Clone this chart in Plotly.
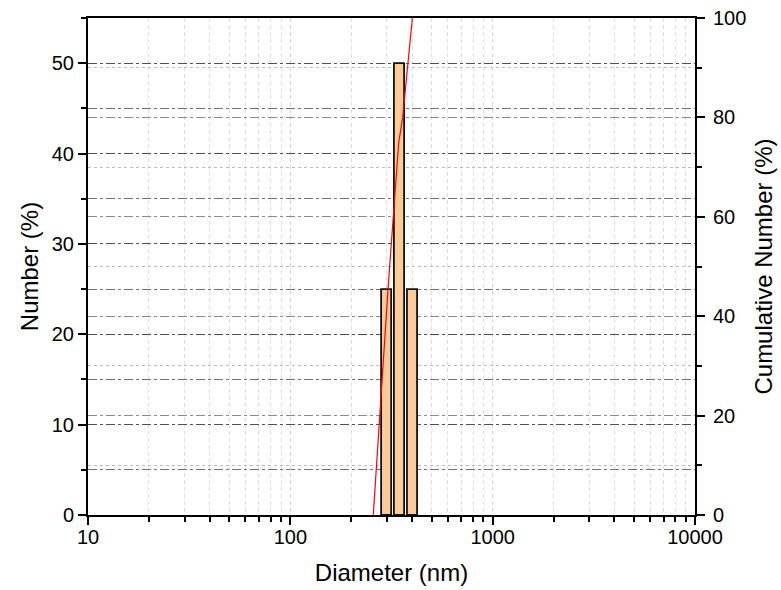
import plotly.graph_objects as go

# Histogram bars (diameter edges in nm, number %)
bar_left = [281, 325, 377]
bar_right = [315, 365, 423]
number_pct = [25, 50, 25]

# Cumulative number curve (diameter nm, cumulative %)
cum_diam = [257, 304, 343, 359, 401]
cum_pct = [0, 45.5, 74.8, 80, 100]

x_major = [10, 100, 1000, 10000]
x_labels = ["10", "100", "1000", "10000"]
x_minor = [m * d for d in (10, 100, 1000) for m in range(2, 10)]

FONT = "Liberation Sans, Arial, sans-serif"

fig = go.Figure()
for l, r, h in zip(bar_left, bar_right, number_pct):
    fig.add_trace(go.Scatter(
        x=[l, l, r, r, l], y=[0, h, h, 0, 0], mode="lines", fill="toself",
        fillcolor="#FBCB98", line=dict(color="#111111", width=1.8),
        showlegend=False, hoverinfo="skip"))

fig.add_trace(go.Scatter(
    x=cum_diam, y=cum_pct, mode="lines", yaxis="y2",
    line=dict(color="#FF0000", width=1.2), showlegend=False))

axis_font = dict(family=FONT, size=20, color="#000")
title_font = dict(family=FONT, size=24, color="#000")

fig.update_layout(
    width=781, height=590,
    margin=dict(l=88, r=86, t=18, b=75),
    paper_bgcolor="white", plot_bgcolor="white",
    xaxis=dict(
        type="log", range=[1, 4], automargin=False,
        tickvals=x_major, ticktext=x_labels, ticklabelstandoff=-5,
        ticks="outside", ticklen=8, tickwidth=1.5, tickcolor="#000",
        showline=True, linecolor="#000", linewidth=2, mirror=True,
        showgrid=True, gridcolor="#D4D4D4", griddash="4px,3px", gridwidth=1,
        minor=dict(tickvals=x_minor, ticks="outside", ticklen=5, tickwidth=1.5,
                   tickcolor="#000", showgrid=True, gridcolor="#DDDDDD",
                   griddash="4px,3px", gridwidth=1),
        tickfont=axis_font,
        title=dict(text="Diameter (nm)", font=title_font, standoff=17),
        zeroline=False,
    ),
    yaxis=dict(
        range=[0, 55], tickvals=[0, 10, 20, 30, 40, 50], automargin=False,
        ticks="outside", ticklen=8, tickwidth=1.5, tickcolor="#000",
        showline=True, linecolor="#000", linewidth=2,
        showgrid=True, gridcolor="#505050", griddash="dashdot", gridwidth=1,
        minor=dict(dtick=5, ticks="outside", ticklen=5, tickwidth=1.5,
                   tickcolor="#000", showgrid=True, gridcolor="#707070",
                   griddash="dashdot", gridwidth=1),
        tickfont=axis_font,
        title=dict(text="Number (%)", font=title_font, standoff=6),
        zeroline=False,
    ),
    yaxis2=dict(
        range=[0, 100], tickvals=[0, 20, 40, 60, 80, 100], automargin=False,
        overlaying="y", side="right", ticklabelstandoff=4,
        ticks="outside", ticklen=8, tickwidth=1.5, tickcolor="#000",
        showline=True, linecolor="#000", linewidth=2,
        showgrid=True, gridcolor="#8A8A8A", griddash="dashdot", gridwidth=1,
        minor=dict(dtick=10, ticks="outside", ticklen=5, tickwidth=1.5,
                   tickcolor="#000", showgrid=True, gridcolor="#BBBBBB",
                   griddash="dot", gridwidth=1),
        tickfont=axis_font,
        title=dict(text="Cumulative Number (%)", font=title_font, standoff=10),
        zeroline=False,
    ),
)

fig.write_html("out.html")
